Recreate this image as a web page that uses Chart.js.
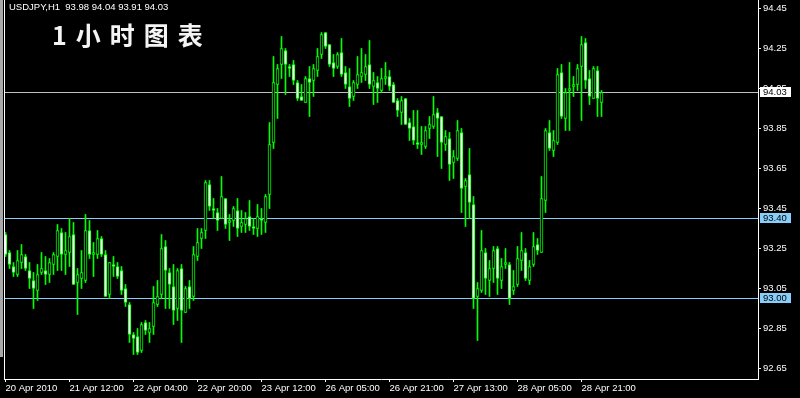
<!DOCTYPE html>
<html>
<head>
<meta charset="utf-8">
<title>USDJPY,H1</title>
<script src="https://cdn.jsdelivr.net/npm/chart.js@4.4.1/dist/chart.umd.min.js"></script>
<style>
    html, body { margin: 0; padding: 0; background: #000; }
    #wrap { position: relative; width: 800px; height: 398px; background: #000; }
</style>
</head>
<body>
<div id="wrap"><canvas id="chart" width="800" height="398"></canvas></div>
<script>
// header / title
const symbolText = 'USDJPY,H1';
const lastQuote = [93.98, 94.04, 93.91, 94.03];
const titleText = '1小时图表';

// axis labels
const timeLabels = ['20 Apr 2010', '21 Apr 12:00', '22 Apr 04:00', '22 Apr 20:00', '23 Apr 12:00',
    '26 Apr 05:00', '26 Apr 21:00', '27 Apr 13:00', '28 Apr 05:00', '28 Apr 21:00'];
const barsPerLabel = 16;
const priceTicks = [92.65, 92.85, 93.05, 93.25, 93.45, 93.65, 93.85, 94.05, 94.25, 94.45];

// horizontal price lines
const priceLines = [94.03, 93.40, 93.00];

// hourly candles, oldest first
const opens = [
    93.32, 93.23, 93.16, 93.12, 93.18, 93.21, 93.14, 93.09, 93.04, 93.13,
    93.14, 93.12, 93.17, 93.21, 93.33, 93.22, 93.23, 93.32, 93.08, 93.10,
    93.09, 93.34, 93.22, 93.22, 93.30, 93.22, 93.02, 93.17, 93.16, 93.14,
    93.05, 92.97, 92.82, 92.81, 92.74, 92.88, 92.83, 92.86, 92.97, 93.02,
    93.26, 93.13, 93.06, 92.95, 93.15, 92.93, 93.06, 93.01, 93.21, 93.30,
    93.34, 93.57, 93.45, 93.43, 93.40, 93.50, 93.38, 93.39, 93.44, 93.36,
    93.37, 93.41, 93.36, 93.35, 93.40, 93.38, 93.52, 93.78, 94.07, 94.17,
    94.24, 94.16, 94.17, 94.08, 94.01, 93.98, 94.10, 94.09, 94.14, 94.22,
    94.33, 94.27, 94.18, 94.16, 94.23, 94.13, 94.06, 94.01, 94.07, 94.11,
    94.12, 94.17, 94.06, 94.08, 94.04, 94.10, 94.11, 94.07, 93.99, 93.93,
    94.00, 93.88, 93.86, 93.78, 93.77, 93.76, 93.85, 93.86, 93.93, 93.91,
    93.77, 93.80, 93.68, 93.70, 93.83, 93.56, 93.62, 93.47, 93.01, 93.04,
    93.23, 93.09, 93.15, 93.25, 93.09, 93.17, 93.17, 93.04, 93.07, 93.19,
    93.23, 93.09, 93.17, 93.27, 93.23, 93.49, 93.83, 93.74, 93.78, 94.13,
    93.90, 94.04, 94.06, 94.07, 94.16, 94.28, 94.10, 94.00, 94.14, 93.98
];
const highs = [
    93.33, 93.24, 93.18, 93.24, 93.27, 93.22, 93.18, 93.13, 93.17, 93.23,
    93.21, 93.20, 93.23, 93.37, 93.35, 93.33, 93.40, 93.38, 93.15, 93.24,
    93.42, 93.39, 93.28, 93.34, 93.31, 93.24, 93.18, 93.21, 93.18, 93.16,
    93.07, 92.98, 92.83, 92.85, 92.88, 92.89, 92.88, 93.06, 93.09, 93.32,
    93.29, 93.15, 93.17, 93.15, 93.17, 93.06, 93.09, 93.26, 93.35, 93.35,
    93.59, 93.59, 93.50, 93.45, 93.61, 93.50, 93.42, 93.46, 93.50, 93.44,
    93.43, 93.49, 93.40, 93.47, 93.45, 93.52, 93.88, 94.21, 94.17, 94.31,
    94.25, 94.17, 94.19, 94.09, 94.07, 94.11, 94.16, 94.17, 94.25, 94.33,
    94.33, 94.27, 94.22, 94.23, 94.30, 94.16, 94.15, 94.09, 94.21, 94.25,
    94.22, 94.29, 94.13, 94.11, 94.15, 94.18, 94.14, 94.08, 94.00, 94.01,
    94.00, 93.90, 93.94, 93.94, 93.86, 93.86, 93.91, 94.01, 93.95, 93.91,
    93.84, 93.83, 93.74, 93.89, 93.85, 93.60, 93.75, 93.51, 93.08, 93.34,
    93.25, 93.19, 93.26, 93.26, 93.20, 93.25, 93.18, 93.14, 93.26, 93.33,
    93.25, 93.19, 93.33, 93.30, 93.61, 93.85, 93.89, 93.84, 94.15, 94.17,
    94.05, 94.18, 94.11, 94.17, 94.31, 94.30, 94.14, 94.16, 94.16, 94.04
];
const lows = [
    93.21, 93.15, 93.11, 93.11, 93.15, 93.14, 93.05, 92.95, 92.99, 93.12,
    93.07, 93.08, 93.12, 93.14, 93.14, 93.12, 93.16, 93.07, 92.92, 93.05,
    93.08, 93.20, 93.11, 93.20, 93.21, 93.01, 93.00, 93.11, 93.10, 93.02,
    92.96, 92.78, 92.72, 92.72, 92.73, 92.82, 92.78, 92.82, 92.96, 93.00,
    92.95, 92.95, 92.87, 92.89, 92.78, 92.93, 92.95, 92.99, 93.19, 93.25,
    93.30, 93.44, 93.40, 93.34, 93.40, 93.35, 93.29, 93.36, 93.31, 93.33,
    93.33, 93.34, 93.32, 93.31, 93.32, 93.33, 93.45, 93.75, 93.90, 94.10,
    94.02, 94.11, 94.07, 93.99, 93.99, 93.98, 93.91, 94.01, 94.11, 94.20,
    94.25, 94.16, 94.11, 94.15, 94.11, 94.05, 93.96, 93.99, 94.05, 94.08,
    94.09, 94.05, 93.97, 93.98, 94.03, 94.07, 94.04, 93.98, 93.91, 93.87,
    93.87, 93.79, 93.77, 93.75, 93.72, 93.75, 93.80, 93.85, 93.71, 93.65,
    93.74, 93.59, 93.60, 93.69, 93.43, 93.36, 93.40, 92.95, 92.79, 93.03,
    93.02, 93.01, 93.08, 93.02, 93.05, 93.15, 92.97, 93.02, 93.06, 93.14,
    93.09, 93.07, 93.16, 93.22, 93.23, 93.43, 93.74, 93.71, 93.77, 93.90,
    93.84, 93.84, 94.01, 94.04, 93.89, 94.05, 93.97, 94.00, 93.91, 93.91
];
const closes = [
    93.22, 93.17, 93.13, 93.19, 93.22, 93.15, 93.10, 93.05, 93.12, 93.15,
    93.12, 93.18, 93.22, 93.34, 93.22, 93.24, 93.31, 93.07, 93.12, 93.13,
    93.34, 93.22, 93.23, 93.30, 93.22, 93.01, 93.18, 93.16, 93.11, 93.04,
    92.98, 92.82, 92.80, 92.73, 92.87, 92.84, 92.85, 92.98, 93.01, 93.25,
    93.14, 93.07, 92.94, 93.14, 92.94, 93.05, 93.00, 93.22, 93.28, 93.33,
    93.58, 93.46, 93.44, 93.39, 93.51, 93.37, 93.39, 93.45, 93.35, 93.38,
    93.40, 93.36, 93.35, 93.41, 93.39, 93.51, 93.77, 94.08, 94.15, 94.25,
    94.17, 94.15, 94.09, 94.00, 93.99, 94.10, 94.08, 94.15, 94.21, 94.32,
    94.26, 94.17, 94.15, 94.22, 94.12, 94.07, 94.00, 94.08, 94.12, 94.13,
    94.16, 94.07, 94.09, 94.05, 94.10, 94.11, 94.06, 93.98, 93.94, 93.99,
    93.87, 93.85, 93.79, 93.77, 93.78, 93.84, 93.87, 93.92, 93.90, 93.78,
    93.81, 93.67, 93.71, 93.84, 93.55, 93.59, 93.48, 93.00, 93.05, 93.24,
    93.10, 93.15, 93.24, 93.10, 93.16, 93.18, 93.00, 93.06, 93.20, 93.24,
    93.10, 93.16, 93.26, 93.24, 93.50, 93.84, 93.75, 93.79, 94.12, 93.91,
    94.03, 94.05, 94.07, 94.15, 94.27, 94.09, 94.01, 94.15, 94.00, 94.03
];

const LIME = '#00ff00';
const FONT = '"Liberation Sans", Arial, sans-serif';

// 4px per bar: chart area 754px wide -> 188.5 bar slots
const xMin = -0.375;
const xMax = 188.125;
// 200px per 1.00 yen, chart area 379px tall
const yMax = 94.4925;
const yMin = yMax - 379 / 200;

const bodyData = opens.map((o, i) => ({x: i, y: [Math.min(o, closes[i]), Math.max(o, closes[i])]}));
const wickData = lows.map((l, i) => ({x: i, y: [l, highs[i]]}));
const bodyFill = opens.map((o, i) => closes[i] >= o ? '#000000' : '#ffffff');

const lineColors = ['#c0c0c0', '#87cefa', '#87cefa'];
const labelBoxColors = ['#ffffff', '#87cefa', '#87cefa'];

const lineSets = priceLines.map((v, i) => ({
    type: 'line',
    data: [{x: xMin, y: v}, {x: xMax, y: v}],
    borderColor: lineColors[i],
    borderWidth: 1,
    pointRadius: 0,
    fill: false
}));

const mtDecor = {
    id: 'mtDecor',
    beforeDraw(chart) {
        const ctx = chart.ctx;
        ctx.save();
        ctx.fillStyle = '#000';
        ctx.fillRect(0, 0, chart.width, chart.height);
        ctx.fillStyle = '#a8a8a8';
        ctx.fillRect(0, 0, 3, 357);
        ctx.restore();
    },
    afterDraw(chart) {
        const ctx = chart.ctx;
        const area = chart.chartArea;
        const yScale = chart.scales.y;
        ctx.save();

        // left frame line
        ctx.strokeStyle = '#ffffff';
        ctx.lineWidth = 1;
        ctx.beginPath();
        ctx.moveTo(area.left + 0.5, area.top);
        ctx.lineTo(area.left + 0.5, area.bottom + 0.5);
        ctx.stroke();

        // price line labels on the right scale
        ctx.font = '9.5px ' + FONT;
        ctx.textBaseline = 'middle';
        ctx.textAlign = 'left';
        priceLines.forEach((v, i) => {
            const y = Math.floor(yScale.getPixelForValue(v));
            ctx.fillStyle = labelBoxColors[i];
            ctx.fillRect(area.right + 2, y - 5, 31, 10);
            ctx.fillStyle = '#000000';
            ctx.fillText(v.toFixed(2), area.right + 5, y + 0.5);
        });

        // header
        ctx.fillStyle = '#ffffff';
        ctx.textBaseline = 'alphabetic';
        ctx.fillText(symbolText + '  ' + lastQuote.map(v => v.toFixed(2)).join(' '), 9, 10);

        // big title
        ctx.font = 'bold 25px "Noto Sans CJK SC", sans-serif';
        ctx.letterSpacing = '9px';
        ctx.fillStyle = '#f4f4f4';
        ctx.fillText(titleText, 52, 45);
        ctx.restore();
    }
};

new Chart(document.getElementById('chart'), {
    type: 'bar',
    data: {
        datasets: [
            {
                data: bodyData,
                backgroundColor: bodyFill,
                borderColor: LIME,
                borderWidth: 1,
                borderSkipped: false,
                barThickness: 3,
                maxBarThickness: 3,
                grouped: false
            },
            {
                data: wickData,
                backgroundColor: LIME,
                borderWidth: 0,
                barThickness: 1,
                maxBarThickness: 1,
                grouped: false
            },
            ...lineSets
        ]
    },
    options: {
        responsive: false,
        animation: false,
        events: [],
        layout: {padding: {left: 4, right: 0, top: 0, bottom: 0}, autoPadding: false},
        plugins: {
            legend: {display: false},
            tooltip: {enabled: false},
            title: {display: false}
        },
        scales: {
            x: {
                type: 'linear',
                offset: false,
                min: xMin,
                max: xMax,
                afterBuildTicks: axis => {
                    axis.ticks = timeLabels.map((t, i) => ({value: i * barsPerLabel}));
                },
                afterFit: axis => {
                    axis.height = 19;
                    axis.paddingLeft = 0;
                    axis.paddingRight = 0;
                },
                ticks: {
                    callback: (v, i) => timeLabels[i],
                    color: '#ffffff',
                    font: {family: FONT, size: 9.5},
                    align: 'start',
                    maxRotation: 0,
                    autoSkip: false,
                    padding: 1
                },
                grid: {drawOnChartArea: false, offset: false, color: '#ffffff', tickLength: 3},
                border: {display: true, color: '#ffffff'}
            },
            y: {
                position: 'right',
                min: yMin,
                max: yMax,
                afterBuildTicks: axis => {
                    axis.ticks = priceTicks.map(v => ({value: v}));
                },
                afterFit: axis => {
                    axis.width = 42;
                    axis.paddingTop = 0;
                    axis.paddingBottom = 0;
                },
                ticks: {
                    callback: v => v.toFixed(2),
                    color: '#ffffff',
                    font: {family: FONT, size: 9.5},
                    padding: 2
                },
                grid: {drawOnChartArea: false, color: '#ffffff', tickLength: 3},
                border: {display: true, color: '#ffffff'}
            }
        }
    },
    plugins: [mtDecor]
});
</script>
</body>
</html>
